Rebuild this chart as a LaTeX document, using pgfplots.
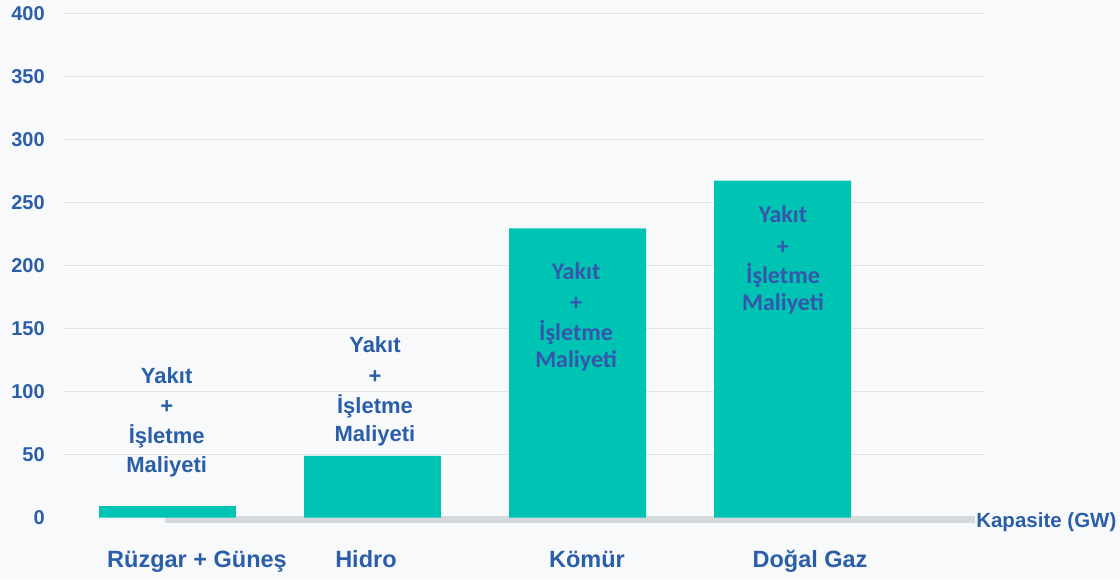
\documentclass[border=0pt]{standalone}
\usepackage{fontspec}
\setmainfont{Liberation Sans}
\newfontfamily\carlito{Carlito}
\usepackage{pgfplots}
\pgfplotsset{compat=1.18}
\usetikzlibrary{backgrounds}
\definecolor{barteal}{HTML}{00C4B3}
\definecolor{lblue}{HTML}{2A5EA8}
\definecolor{inblue}{HTML}{3656AC}
\definecolor{gridc}{HTML}{E1E4E7}
\definecolor{basec}{HTML}{D5D9DB}
\definecolor{bgc}{HTML}{F8F9FB}
\newcommand{\lab}[1]{\fontsize{22bp}{26bp}\selectfont\bfseries #1}
\newcommand{\calb}[1]{\carlito\fontsize{24bp}{28bp}\selectfont\bfseries #1}
\begin{document}
\begin{tikzpicture}
\begin{axis}[
  scale only axis, width=922bp, height=504bp,
  xmin=-0.51, xmax=3.988, ymin=0, ymax=400,
  clip=false,
  axis line style={draw=none},
  major tick length=0pt,
  ytick={0,50,...,400},
  xtick={0.144,0.968,2.046,3.134},
  xticklabels={Rüzgar + Güneş, Hidro, Kömür, Doğal Gaz},
  xticklabel style={anchor=base, yshift=-49.5bp, font=\fontsize{23.5bp}{27bp}\selectfont\bfseries, text=lblue},
  yticklabel style={anchor=east, inner sep=0pt, xshift=-18bp, font=\fontsize{20bp}{24bp}\selectfont\bfseries, text=lblue},
  /pgf/number format/assume math mode=true,
  ybar, bar width=0.668,
]
\coordinate (bgsw) at (axis cs:-0.817,-48.8);
\coordinate (bgne) at (axis cs:4.646,410.7);
\pgfplotsinvokeforeach{50,100,...,400}{
  \draw[gridc, line width=1.2bp] (axis cs:-0.51,#1) -- (axis cs:3.988,#1);
}
\draw[basec, line width=7bp] (axis cs:-0.012,-1.6) -- (axis cs:3.939,-1.6);
\addplot[fill=barteal, draw=none] coordinates {(0,9) (1,49) (2,229.5) (3,267.3)};
% labels
\node[anchor=base, text=lblue] at (axis cs:-0.004,106.7) {\lab{Yakıt}};
\node[anchor=base, text=lblue] at (axis cs:-0.004,82.9) {\lab{+}};
\node[anchor=base, text=lblue] at (axis cs:-0.004,59.1) {\lab{İşletme}};
\node[anchor=base, text=lblue] at (axis cs:-0.004,36.1) {\lab{Maliyeti}};
\node[anchor=base, text=lblue] at (axis cs:1.012,130.6) {\lab{Yakıt}};
\node[anchor=base, text=lblue] at (axis cs:1.012,106.7) {\lab{+}};
\node[anchor=base, text=lblue] at (axis cs:1.012,82.9) {\lab{İşletme}};
\node[anchor=base, text=lblue] at (axis cs:1.012,60.7) {\lab{Maliyeti}};
\node[anchor=base, text=inblue] at (axis cs:1.993,189.3) {\calb{Yakıt}};
\node[anchor=base, text=inblue] at (axis cs:1.993,164.7) {\calb{+}};
\node[anchor=base, text=inblue] at (axis cs:1.993,140.9) {\calb{İşletme}};
\node[anchor=base, text=inblue] at (axis cs:1.993,119.4) {\calb{Maliyeti}};
\node[anchor=base, text=inblue] at (axis cs:3.002,234.5) {\calb{Yakıt}};
\node[anchor=base, text=inblue] at (axis cs:3.002,209.1) {\calb{+}};
\node[anchor=base, text=inblue] at (axis cs:3.002,186.1) {\calb{İşletme}};
\node[anchor=base, text=inblue] at (axis cs:3.002,164.7) {\calb{Maliyeti}};
\node[anchor=base west, inner sep=0pt, text=lblue, font=\fontsize{20.5bp}{24bp}\selectfont\bfseries] at (axis cs:3.944,-7.9) {Kapasite (GW)};
\end{axis}
\begin{scope}[on background layer]
\fill[bgc] (bgsw) rectangle (bgne);
\end{scope}
\pgfresetboundingbox
\path (bgsw) rectangle (bgne);
\end{tikzpicture}
\end{document}
